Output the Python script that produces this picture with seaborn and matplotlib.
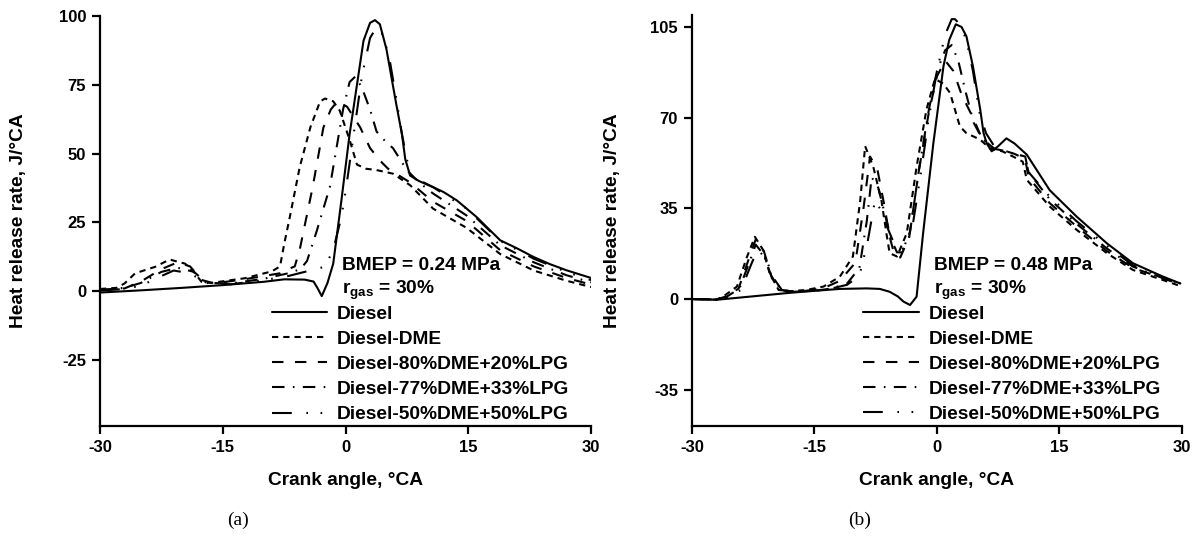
import numpy as np
import pandas as pd
import matplotlib
matplotlib.use("Agg")
import matplotlib.pyplot as plt
import seaborn as sns

# ---------------- data ----------------
labels = ["Diesel", "Diesel-DME", "Diesel-80%DME+20%LPG",
          "Diesel-77%DME+33%LPG", "Diesel-50%DME+50%LPG"]

# panel (a) BMEP 0.24 MPa
a_diesel_x = [-30, -25, -20, -15, -10, -7.5, -5, -3.9, -3.4, -2.9, -2.2, -1.5, -0.5, 0.5, 1.4, 2.2, 3.0, 3.6, 4.2,
              5.0, 5.6, 6.2, 6.9, 7.3, 7.9, 9.0, 10.7, 12, 13.6, 16, 18.9, 21, 23, 25, 27, 30]
a_diesel_y = [-0.5, 0.3, 1.2, 2.2, 3.4, 4.3, 4.2, 3.5, 1.0, -1.8, 3.0, 10, 33, 57, 75, 91, 97.5, 98.5, 97,
              88, 78, 68, 57, 48, 42, 40, 37.8, 36, 33, 27, 18.5, 15.5, 12.4, 9.8, 7.6, 4.8]
a_dme_x = [-30, -28, -27, -25.7, -23.3, -21.5, -19.6, -18.4, -17.6, -16.4, -12.3, -9, -8, -7.5, -6.8, -5.6, -4.3,
           -3.1, -2.5, -1.5, -0.7, 0.5, 1.4, 2.5, 3.8, 5.8, 7.9, 10.7, 14.8, 18.9, 23, 27, 30]
a_dme_y = [0.8, 1.2, 2.8, 6.5, 8.8, 11.5, 10, 6.5, 3.4, 3, 4.7, 7.2, 9, 17, 27, 45, 59.5,
           69, 70, 69, 65.6, 55, 46, 44.5, 44, 42.7, 38.5, 30, 23, 13.5, 7.5, 3.8, 1.5]
a_d80_x = [-30, -27, -25, -22.5, -20.5, -19, -17.5, -16, -12, -8, -7, -6.2, -5.6, -4, -2.7, -1.8, -1.0, 0.2,
           1.8, 3.0, 4.2, 5.2, 7.9, 10.7, 14.8, 18.9, 23, 27, 30]
a_d80_y = [0.5, 1.0, 3.5, 8, 10.5, 9, 4, 2.8, 4.5, 6.5, 8, 9, 15, 38, 59.5, 66, 69, 67,
           59.5, 52, 47.5, 44.5, 39.5, 32.5, 25.5, 14.9, 9, 4.8, 2.4]
a_d77_x = [-30, -27, -25, -22.5, -20.5, -18.5, -17, -14, -10, -7, -5.5, -4.7, -3.5, -1.9, -1.1, -0.3, 0.5, 1.2,
           2.0, 3.0, 3.8, 5.0, 5.8, 7.5, 9, 10.7, 14.8, 18.9, 23, 27, 30]
a_d77_y = [0.3, 1.2, 3, 7, 8.5, 7, 3, 2.8, 4.5, 6.5, 8, 11, 22, 38, 52, 66, 76, 78,
           74, 66, 58, 54, 52, 44, 39.5, 35.5, 27.5, 16.7, 10.5, 5.8, 3.2]
a_d50_x = [-30, -27, -25, -22.5, -21, -19, -17, -14, -10, -7, -5, -3.5, -2.5, -1.5, -0.5, 0.1, 1.0, 2.0, 3.0,
           3.8, 4.6, 5.4, 6.2, 6.9, 7.9, 10.7, 14.8, 18.9, 23, 27, 30]
a_d50_y = [0.2, 0.8, 2, 5.5, 7.5, 6.5, 3, 2.5, 4, 5.5, 7, 8, 9, 15, 27, 38, 57, 78, 92,
           96, 93, 84, 70, 57, 42, 37.8, 30, 18.3, 11.8, 7, 4]

# panel (b) BMEP 0.48 MPa
b_diesel_x = [-30, -27, -22, -18, -14, -11.9, -8.6, -7, -5.8, -4.8, -4.1, -3.3, -2.5, -1.7, -0.45, 0.8, 1.5, 2.3,
              3.0, 3.6, 4.4, 5.3, 5.7, 6.1, 6.7, 7.5, 8.5, 9.5, 11, 13.8, 17.1, 20.8, 24, 27.7, 29.8]
b_diesel_y = [0, -0.3, 1.2, 2.4, 3.4, 3.9, 4.1, 3.9, 2.8, 1, -1, -2.3, 0.9, 25.4, 60, 90, 100, 106,
              105, 101.4, 89.8, 73, 64, 60, 57, 59, 62, 60, 55.7, 42, 31.8, 21.5, 13.8, 8.6, 6]
b_dme_x = [-30, -27, -26.2, -24.5, -23.3, -22.3, -21.3, -20.5, -19.4, -18, -16, -13.9, -11.9, -10.3, -9.4, -8.8,
           -7.8, -6.8, -6.2, -5.8, -4.9, -3.7, -2.5, -1.3, -0.25, 0.8, 1.6, 2.8, 3.6, 5.3, 6.5, 8, 9.3, 10.5, 11,
           13.8, 17.1, 20.8, 24, 27.7, 29.8]
b_dme_y = [0, -0.2, 0.9, 4.8, 16, 24, 19, 10, 3.5, 3, 3.5, 4.8, 8.6, 16.4, 38, 59,
           51, 38, 25.4, 17.7, 16.4, 25.4, 51, 73, 85, 83, 79.5, 66.6, 64, 61.5, 58, 57, 55, 53, 46,
           35.7, 26.7, 17.7, 11.2, 7.3, 5]
b_d80_x = [-30, -27, -26, -24.3, -23.1, -22.2, -21.2, -20.3, -19.2, -18, -16, -13.9, -11.9, -10, -9, -8.2, -7.3,
           -6.5, -5.8, -5.2, -4.5, -3.4, -2.2, -1, 0, 1, 2, 3, 4.4, 5.5, 7, 8.5, 9.5, 10.8, 11.2, 13.8, 17.1,
           20.8, 24, 27.7, 29.8]
b_d80_y = [0, -0.2, 0.8, 4, 15, 23, 18.5, 9, 3.5, 2.8, 3.2, 4.2, 7, 14, 35, 55, 50,
           37, 24, 17, 16, 24, 50, 72, 86, 92, 88, 79, 70, 62, 58, 57, 56, 54, 47, 37, 28,
           18.5, 12, 8, 5.5]
b_d77_x = [-30, -27, -25.8, -24.2, -23, -22.2, -21.2, -20.2, -19, -17.5, -15, -13, -11, -9.5, -8.6, -8, -7.2,
           -6.4, -5.6, -4.9, -4.3, -3.3, -2.2, -1, 0, 1, 1.8, 2.6, 3.5, 4.5, 5.5, 7, 8.5, 9.5, 10.8, 11.2, 13.8,
           17.1, 20.8, 24, 27.7, 29.8]
b_d77_y = [0, -0.2, 0.8, 4, 14, 21, 17, 8, 3.5, 2.8, 3.2, 4, 6, 12, 30, 47, 43,
           33, 23, 18, 18, 26, 50, 73, 88, 96, 98, 92, 80, 68, 62, 58, 57, 56, 55, 49, 38.5,
           29, 19.5, 12.5, 8, 6]
b_d50_x = [-30, -27, -25.8, -24, -22.8, -22, -21, -20, -19, -17.5, -15, -13, -11, -9.5, -8.5, -7.6, -6.8, -6,
           -5.2, -4.5, -3.8, -3, -2, -1, 0, 1, 1.8, 2.2, 2.8, 3.6, 4.4, 5.2, 6, 7, 8.5, 9.5, 10.8, 11.2, 13.8,
           17.1, 20.8, 24, 27.7, 29.8]
b_d50_y = [0, -0.2, 0.6, 3.5, 13, 19, 16, 8, 3.5, 2.8, 3.2, 4, 5.5, 9, 22, 38, 34, 27,
           21, 19, 20, 28, 48, 70, 88, 102, 108, 108, 106, 100, 88, 72, 64, 59, 57, 56, 55, 49, 39.5,
           30, 20.5, 13, 8.5, 6]

panel_a = [(a_diesel_x, a_diesel_y), (a_dme_x, a_dme_y), (a_d80_x, a_d80_y), (a_d77_x, a_d77_y), (a_d50_x, a_d50_y)]
panel_b = [(b_diesel_x, b_diesel_y), (b_dme_x, b_dme_y), (b_d80_x, b_d80_y), (b_d77_x, b_d77_y), (b_d50_x, b_d50_y)]

# ---------------- style ----------------
sns.set_theme(style="ticks")
plt.rcParams["font.family"] = ["Liberation Sans", "DejaVu Sans"]
plt.rcParams["font.weight"] = "bold"
plt.rcParams["text.color"] = "black"
plt.rcParams["axes.labelcolor"] = "black"
plt.rcParams["xtick.color"] = "black"
plt.rcParams["ytick.color"] = "black"
plt.rcParams["mathtext.fontset"] = "custom"
plt.rcParams["mathtext.rm"] = "Liberation Sans:bold"
plt.rcParams["mathtext.bf"] = "Liberation Sans:bold"

dash_map = {
    labels[0]: "",
    labels[1]: (3.0, 2.4),
    labels[2]: (5.5, 5.5),
    labels[3]: (6.0, 4.0, 0.8, 4.0),
    labels[4]: (9.5, 7.0, 0.8, 6.0, 0.8, 7.0),
}

FS = 13.8


def to_df(panel):
    frames = []
    for lab, (xs, ys) in zip(labels, panel):
        frames.append(pd.DataFrame({"angle": xs, "hrr": ys, "fuel": lab}))
    return pd.concat(frames, ignore_index=True)


fig = plt.figure(figsize=(11.96, 5.38), dpi=100)
ax1 = fig.add_axes([100 / 1196, 112 / 538, 491 / 1196, 410 / 538])
ax2 = fig.add_axes([692 / 1196, 112 / 538, 490 / 1196, 411 / 538])

configs = [
    (ax1, panel_a, (-49, 100), [-25, 0, 25, 50, 75, 100], "BMEP = 0.24 MPa", "(a)", 238, -0.149),
    (ax2, panel_b, (-49, 109.6), [-35, 0, 35, 70, 105], "BMEP = 0.48 MPa", "(b)", 860, -0.145),
]

for ax, panel, ylim, yticks, bmep, cap, capx, ylx in configs:
    df = to_df(panel)
    sns.lineplot(data=df, x="angle", y="hrr", style="fuel", style_order=labels,
                 dashes=dash_map, color="black", linewidth=1.5, sort=False,
                 estimator=None, legend=False, ax=ax)
    ax.set_xlim(-30, 30)
    ax.set_ylim(*ylim)
    ax.set_xticks([-30, -15, 0, 15, 30])
    ax.set_yticks(yticks)
    ax.set_xticklabels(["-30", "-15", "0", "15", "30"])
    ax.set_yticklabels([str(t) for t in yticks])
    for s in ["top", "right"]:
        ax.spines[s].set_visible(False)
    for s in ["left", "bottom"]:
        ax.spines[s].set_linewidth(1.6)
        ax.spines[s].set_color("black")
    ax.tick_params(axis="both", direction="out", length=6, width=1.6, colors="black",
                   labelsize=12, pad=4)
    for t in ax.get_xticklabels() + ax.get_yticklabels():
        t.set_fontweight("bold")
    ax.set_xlabel("Crank angle, °CA", fontsize=FS, fontweight="bold", color="black")
    ax.xaxis.set_label_coords(0.5, -0.113)
    ax.set_ylabel("Heat release rate, J/°CA", fontsize=FS, fontweight="bold", color="black")
    ax.yaxis.set_label_coords(ylx, 0.5)
    ax.text(0.493, 0.391, bmep, transform=ax.transAxes, fontsize=FS, fontweight="bold",
            ha="left", va="center", color="black")
    ax.text(0.493, 0.331, r"r$_{\mathbf{gas}}$ = 30%", transform=ax.transAxes, fontsize=FS,
            fontweight="bold", ha="left", va="center", color="black")
    handles = list(ax.lines[:5])
    leg = ax.legend(handles, labels, loc="upper left", bbox_to_anchor=(0.35, 0.294), frameon=False,
                    borderaxespad=0, borderpad=0, handlelength=2.9, handletextpad=0.5,
                    labelspacing=0.4, prop={"size": FS, "weight": "bold"})
    for t in leg.get_texts():
        t.set_color("black")
    fig.text(capx / 1196, 1 - 520 / 538, cap, ha="center", va="center",
             family="Liberation Serif", fontweight="normal", fontsize=14, color="black")

fig.savefig("out.png", dpi=100, facecolor="white")
